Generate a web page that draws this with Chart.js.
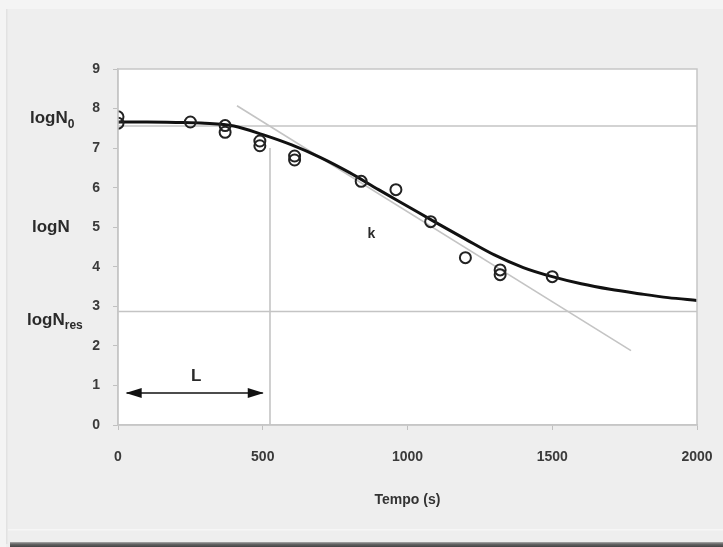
<!DOCTYPE html>
<html><head><meta charset="utf-8">
<script src="https://cdn.jsdelivr.net/npm/chart.js@4/dist/chart.umd.min.js"></script>
<style>html,body{margin:0;padding:0;background:#eeeeee;}#wrap{width:723px;height:547px;position:relative;}</style>
</head><body><div id="wrap"><canvas id="c" width="723" height="547"></canvas></div>
<script>
// ---- data ----
const curveX = [0,100,200,300,400,500,600,700,800,900,1000,1100,1200,1300,1400,1500,1600,1700,1800,1900,2000];
const curveY = [7.66,7.66,7.65,7.63,7.56,7.34,7.08,6.76,6.38,5.95,5.53,5.11,4.70,4.30,3.98,3.75,3.57,3.43,3.32,3.22,3.15];
const obsX = [0,0,250,370,370,490,490,610,610,840,960,1080,1200,1320,1320,1500];
const obsY = [7.79,7.63,7.66,7.57,7.40,7.18,7.06,6.80,6.70,6.16,5.95,5.14,4.23,3.92,3.80,3.75];
const tangentX = [411,1772];
const tangentY = [8.07,1.88];
const logN0 = 7.56;
const logNres = 2.87;
const lagX = 525;
const lagTop = 7.0;
const arrowX = [30,500];
const arrowY = [0.81,0.81];
const xTicks = [0,500,1000,1500,2000];
const yTicks = [0,1,2,3,4,5,6,7,8,9];
const xTitle = 'Tempo (s)';

const pts = (xs, ys) => xs.map((x,i)=>({x:x,y:ys[i]}));
const FONT = '"Liberation Sans", Arial, sans-serif';

const decor = {
  id:'decor',
  beforeDraw(chart){
    const {ctx, chartArea:a, width, height} = chart;
    ctx.save();
    ctx.fillStyle = '#eeeeee';
    ctx.fillRect(0,0,width,height);
    ctx.fillStyle = '#f4f4f4';
    ctx.fillRect(0,0,width,9);
    ctx.fillRect(0,0,6,height);
    ctx.fillStyle = '#e2e2e2';
    ctx.fillRect(6,9,1.5,height-12);
    ctx.fillStyle = '#f6f6f6';
    ctx.fillRect(8,529,width-8,1.5);
    const g = ctx.createLinearGradient(0,541,0,547);
    g.addColorStop(0,'#d0d0d0'); g.addColorStop(0.5,'#666'); g.addColorStop(1,'#444');
    ctx.fillStyle = g;
    ctx.fillRect(10,542,width-10,5);
    ctx.fillStyle = '#ffffff';
    ctx.fillRect(a.left,a.top,a.right-a.left,a.bottom-a.top);
    ctx.restore();
  },
  afterDraw(chart){
    const {ctx, chartArea:a, scales:{x,y}} = chart;
    ctx.save();
    ctx.strokeStyle = '#c6c6c6';
    ctx.lineWidth = 1.5;
    ctx.strokeRect(a.left,a.top,a.right-a.left,a.bottom-a.top);
    // arrow heads
    ctx.fillStyle = '#111';
    const ay = y.getPixelForValue(arrowY[0]);
    const x0 = x.getPixelForValue(arrowX[0]), x1 = x.getPixelForValue(arrowX[1]);
    ctx.beginPath(); ctx.moveTo(x0-1,ay); ctx.lineTo(x0+15,ay-5); ctx.lineTo(x0+15,ay+5); ctx.closePath(); ctx.fill();
    ctx.beginPath(); ctx.moveTo(x1+1,ay); ctx.lineTo(x1-15,ay-5); ctx.lineTo(x1-15,ay+5); ctx.closePath(); ctx.fill();
    // texts
    ctx.fillStyle = '#2a2a2a';
    ctx.textBaseline = 'alphabetic';
    ctx.textAlign = 'left';
    const sub = (main, s, px, py, so) => {
      ctx.font = 'bold 17px ' + FONT;
      ctx.fillText(main, px, py);
      const w = ctx.measureText(main).width;
      ctx.font = 'bold 12px ' + FONT;
      ctx.fillText(s, px + w, py + so);
    };
    sub('logN', '0', 30, y.getPixelForValue(logN0) - 3, 5);
    sub('logN', 'res', 27, y.getPixelForValue(logNres) + 14, 4);
    ctx.font = 'bold 17px ' + FONT;
    ctx.fillText('logN', 32, y.getPixelForValue(5.0) + 5);
    ctx.textAlign = 'center';
    ctx.font = 'bold 17px ' + FONT;
    ctx.fillText('L', x.getPixelForValue(270), y.getPixelForValue(1.29) + 7);
    ctx.font = 'bold 14px ' + FONT;
    ctx.fillText('k', x.getPixelForValue(875), y.getPixelForValue(4.85) + 5);
    ctx.restore();
  }
};

new Chart(document.getElementById('c'), {
  type:'scatter',
  data:{ datasets:[
    {label:'obs', data:pts(obsX,obsY), showLine:false, pointStyle:'circle', pointRadius:5.5, pointBorderWidth:2,
     pointBorderColor:'#222', pointBackgroundColor:'rgba(0,0,0,0)'},
    {label:'fit', data:pts(curveX,curveY), showLine:true, borderColor:'#111', borderWidth:3, pointRadius:0,
     cubicInterpolationMode:'monotone'},
    {label:'arrow', data:pts(arrowX,arrowY), showLine:true, borderColor:'#111', borderWidth:1.5, pointRadius:0},
    {label:'tangent', data:pts(tangentX,tangentY), showLine:true, borderColor:'#c4c4c4', borderWidth:1.6, pointRadius:0},
    {label:'N0', data:pts([0,2000],[logN0,logN0]), showLine:true, borderColor:'#c4c4c4', borderWidth:1.6, pointRadius:0},
    {label:'Nres', data:pts([0,2000],[logNres,logNres]), showLine:true, borderColor:'#c4c4c4', borderWidth:1.6, pointRadius:0},
    {label:'lag', data:pts([lagX,lagX],[0,lagTop]), showLine:true, borderColor:'#c4c4c4', borderWidth:1.6, pointRadius:0}
  ]},
  options:{
    responsive:false, animation:false, devicePixelRatio:1,
    layout:{padding:{left:0,right:26,top:69,bottom:0}},
    plugins:{legend:{display:false}, tooltip:{enabled:false}},
    scales:{
      x:{type:'linear', min:0, max:2000,
         afterBuildTicks:(s)=>{s.ticks = xTicks.map(v=>({value:v}));},
         afterFit:(s)=>{s.height = 122; s.paddingRight = 0; s.paddingLeft = 0;},
         grid:{drawOnChartArea:false, drawTicks:true, tickLength:5, color:'#c0c0c0'},
         border:{display:true, color:'#c6c6c6', width:1.5},
         ticks:{padding:19, color:'#3a3a3a', font:{family:FONT, size:14, weight:'bold'}, maxRotation:0,
                callback:(v)=>String(v)},
         title:{display:true, text:xTitle, color:'#333', font:{family:FONT, size:14, weight:'bold'}, padding:{top:0,bottom:38}}
      },
      y:{type:'linear', min:0, max:9,
         afterBuildTicks:(s)=>{s.ticks = yTicks.map(v=>({value:v}));},
         afterFit:(s)=>{s.width = 118; s.paddingTop = 0; s.paddingBottom = 0;},
         grid:{drawOnChartArea:false, drawTicks:true, tickLength:5, color:'#c0c0c0'},
         border:{display:true, color:'#c6c6c6', width:1.5},
         ticks:{padding:13, color:'#3a3a3a', font:{family:FONT, size:14, weight:'bold'}, callback:(v)=>String(v)}
      }
    }
  },
  plugins:[decor]
});
</script></body></html>
